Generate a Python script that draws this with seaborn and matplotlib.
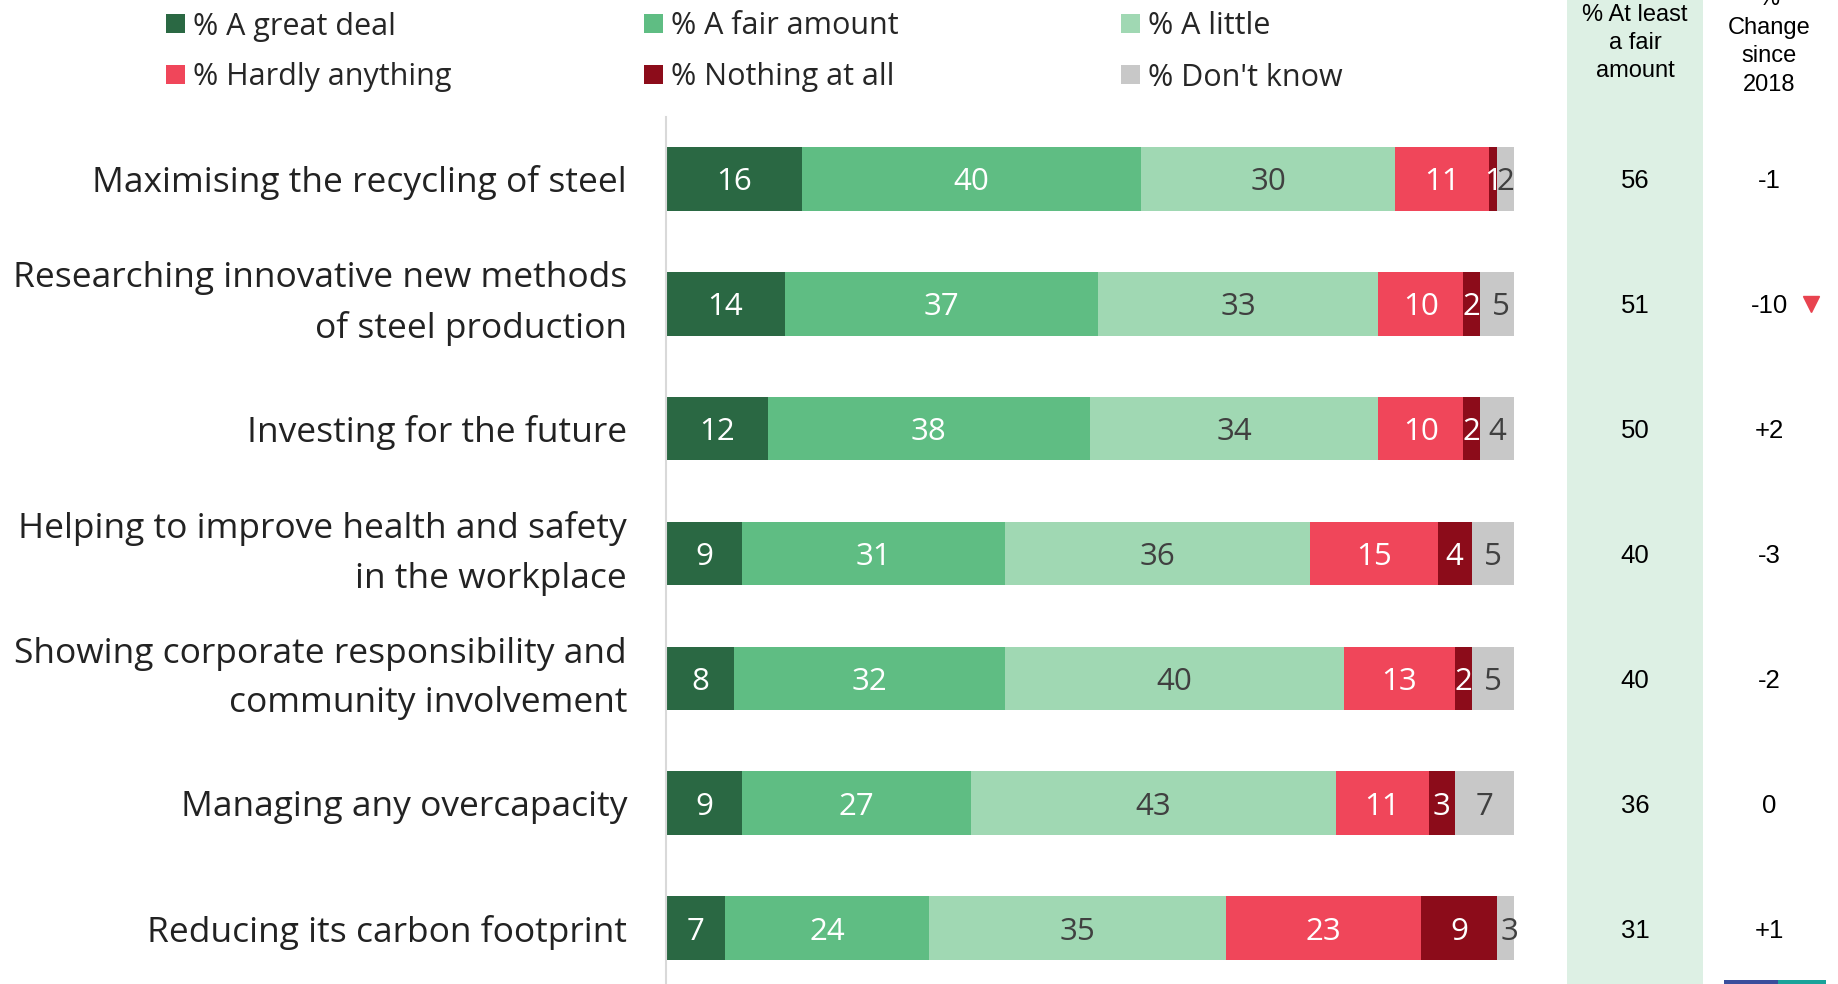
import matplotlib
matplotlib.use("Agg")
import matplotlib.pyplot as plt
import matplotlib.transforms as mtransforms
from matplotlib.patches import Rectangle
import seaborn as sns
import numpy as np
import pandas as pd

categories = [
    "Maximising the recycling of steel",
    "Researching innovative new methods\nof steel production",
    "Investing for the future",
    "Helping to improve health and safety\nin the workplace",
    "Showing corporate responsibility and\ncommunity involvement",
    "Managing any overcapacity",
    "Reducing its carbon footprint",
]
great_deal = [16, 14, 12, 9, 8, 9, 7]
fair_amount = [40, 37, 38, 31, 32, 27, 24]
a_little = [30, 33, 34, 36, 40, 43, 35]
hardly_anything = [11, 10, 10, 15, 13, 11, 23]
nothing_at_all = [1, 2, 2, 4, 2, 3, 9]
dont_know = [2, 5, 4, 5, 5, 7, 3]
at_least_fair = [56, 51, 50, 40, 40, 36, 31]
change_since_2018 = ["-1", "-10", "+2", "-3", "-2", "0", "+1"]
series_names = ["% A great deal", "% A fair amount", "% A little",
                "% Hardly anything", "% Nothing at all", "% Don't know"]

colors = ["#2A6843", "#5FBD83", "#A0D8B3", "#F0465A", "#8C0C1A", "#C8C8C8"]
label_colors = ["white", "white", "#404040", "white", "white", "#404040"]

sns.set_theme(style="white")
MAIN = "Open Sans"
plt.rcParams["font.family"] = [MAIN, "DejaVu Sans"]

W, H = 1838, 984
fig = plt.figure(figsize=(W / 100, H / 100), dpi=100)

# overlay axes in pixel coordinates
ov = fig.add_axes([0, 0, 1, 1], zorder=0)
ov.set_xlim(0, W)
ov.set_ylim(H, 0)
ov.axis("off")
ov.patch.set_alpha(0)

# green band
ov.add_patch(Rectangle((1567, 0), 136, H, color="#DDF0E4", lw=0))

# main bar axes
ax_left, ax_right = 666, 1514
ax_top = 117
ax = fig.add_axes([ax_left / W, 0, (ax_right - ax_left) / W, (H - ax_top) / H], zorder=1)
ax.patch.set_alpha(0)

series = [great_deal, fair_amount, a_little, hardly_anything, nothing_at_all, dont_know]
vals = np.array(series).T  # rows x series
cum = np.cumsum(vals, axis=1)

for k in reversed(range(len(series))):
    df = pd.DataFrame({"cat": categories, "val": cum[:, k]})
    sns.barplot(data=df, x="val", y="cat", color=colors[k], orient="h",
                width=0.51, saturation=1, ax=ax, linewidth=0)

for i in range(len(categories)):
    left = 0
    for k in range(len(series)):
        v = vals[i, k]
        ax.text(left + v / 2, i, str(v), ha="center", va="center_baseline",
                color=label_colors[k], fontsize=22.5, family=[MAIN, "DejaVu Sans"])
        left += v

ax.set_xlim(0, 100)
ax.set_ylim(6.448, -0.496)
ax.set_xlabel("")
ax.set_ylabel("")
ax.set_xticks([])
for s in ["top", "right", "bottom"]:
    ax.spines[s].set_visible(False)
ax.spines["left"].set_color("#D9D9D9")
ax.spines["left"].set_linewidth(1.5)
ax.tick_params(axis="y", length=0, pad=28, labelsize=25.5)
for t in ax.get_yticklabels():
    t.set_color("#222222")
    t.set_linespacing(1.6)
    if "\n" in t.get_text():
        t.set_verticalalignment("center")

# right columns
trans = mtransforms.blended_transform_factory(ov.transData, ax.transData)
ARIAL = ["Liberation Sans", "DejaVu Sans"]
for i in range(len(categories)):
    ax.text(1635, i, str(at_least_fair[i]), transform=trans, ha="center", va="center_baseline",
            fontsize=18.5, family=ARIAL, color="black")
    ax.text(1769, i, change_since_2018[i], transform=trans, ha="center", va="center_baseline",
            fontsize=18.5, family=ARIAL, color="black")
    if change_since_2018[i] == "-10":
        ax.plot([1811], [i], transform=trans, marker="v", markersize=12,
                color="#E8434F", clip_on=False, linestyle="none")

ov.text(1635, 43, "% At least\na fair\namount", ha="center", va="center",
        fontsize=17, family=ARIAL, color="black", linespacing=1.38)
ov.text(1769, 42, "%\nChange\nsince\n2018", ha="center", va="center",
        fontsize=17, family=ARIAL, color="black", linespacing=1.38)

# legend
leg_x = [175, 653, 1130]
leg_y = [23, 74]
for k, name in enumerate(series_names):
    r, c = divmod(k, 3)
    x, y = leg_x[c], leg_y[r]
    ov.add_patch(Rectangle((x - 9.5, y - 9.5), 19, 19, color=colors[k], lw=0))
    ov.text(x + 18, y, name, ha="left", va="center_baseline", fontsize=22, color="#262626")

# small logo stripe bottom right
ov.add_patch(Rectangle((1724, 980), 54, 4, color="#3A4E9C", lw=0))
ov.add_patch(Rectangle((1778, 980), 48, 4, color="#1AA39A", lw=0))

fig.savefig("out.png", dpi=100)
